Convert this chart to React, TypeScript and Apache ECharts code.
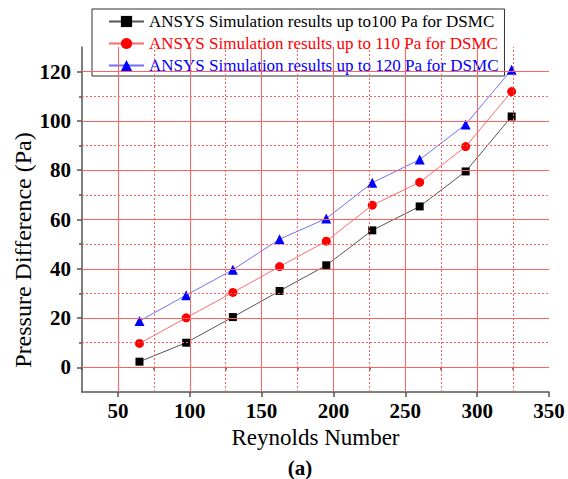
import React, { useEffect, useRef } from 'react';
import * as echarts from 'echarts';

const reynolds = [65, 97.5, 130, 162.5, 195, 227, 260, 292, 324];
const dp100 = [2.3, 10.0, 20.4, 31.0, 41.4, 55.6, 65.3, 79.5, 101.8];
const dp110 = [9.7, 20.1, 30.4, 40.9, 51.2, 65.8, 75.1, 89.6, 111.9];
const dp120 = [18.8, 29.3, 39.6, 52.0, 60.4, 74.9, 84.3, 98.6, 120.8];
const seriesNames = [
  'ANSYS Simulation results up to100 Pa for DSMC',
  'ANSYS Simulation results up to 110 Pa for DSMC',
  'ANSYS Simulation results up to 120 Pa for DSMC',
];
const yMajor = [0, 20, 40, 60, 80, 100, 120];
const yMinor = [10, 30, 50, 70, 90, 110];
const xLabels = [50, 100, 150, 200, 250, 300, 350];
const xMajorGrid = [50, 100, 150, 200, 250, 300];
const xMinor = [25, 75, 125, 175, 225, 275, 325];

const FONT = 'Liberation Serif';
const GRID_RED = '#ff6060';

export default function App() {
  const ref = useRef<HTMLDivElement>(null);
  useEffect(() => {
    if (!ref.current) return;
    const chart = echarts.init(ref.current, null, { renderer: 'svg' });
    const pair = (ys: number[]) => reynolds.map((x, i) => [x, ys[i]]);
    const solid = { color: GRID_RED, width: 1, type: 'solid', opacity: 1 };
    const dotted = { color: GRID_RED, width: 1, type: [2, 2], opacity: 1 };
    const gridLines: any[] = [
      ...yMajor.map((v) => ({ yAxis: v, lineStyle: solid })),
      ...yMinor.map((v) => ({ yAxis: v, lineStyle: dotted })),
      ...xMajorGrid.map((v) => ({ xAxis: v, lineStyle: solid })),
      ...xMinor.filter((v) => v > 25).map((v) => ({ xAxis: v, lineStyle: dotted })),
    ];
    const axisLineStyle = { color: '#555', width: 1.5 };
    chart.setOption({
      animation: false,
      backgroundColor: '#fff',
      grid: { left: 82, right: 19, top: 47, bottom: 87, containLabel: false },
      legend: {
        orient: 'vertical',
        left: 92,
        top: 9,
        padding: [4, 6, 2, 16],
        itemGap: 5,
        itemWidth: 35,
        itemHeight: 14,
        backgroundColor: '#fff',
        borderColor: '#333',
        borderWidth: 1,
        textStyle: { fontFamily: FONT, fontSize: 17, lineHeight: 16 },
        data: [
          { name: seriesNames[0], textStyle: { color: '#000' } },
          { name: seriesNames[1], textStyle: { color: '#ff0000' } },
          { name: seriesNames[2], textStyle: { color: '#0000ff' } },
        ],
      },
      xAxis: [
        {
          type: 'value',
          min: 25,
          max: 350,
          position: 'bottom',
          name: 'Reynolds Number',
          nameLocation: 'middle',
          nameGap: 34,
          nameTextStyle: { fontFamily: FONT, fontSize: 23, color: '#000' },
          axisLine: { show: true, onZero: false, lineStyle: axisLineStyle },
          axisTick: { show: true, inside: false, length: 5, customValues: xLabels, lineStyle: axisLineStyle },
          axisLabel: {
            customValues: xLabels,
            margin: 8,
            fontFamily: FONT,
            fontSize: 21,
            fontWeight: 'bold',
            color: '#000',
          },
          splitLine: { show: false },
        },
        {
          type: 'value',
          min: 25,
          max: 350,
          position: 'bottom',
          axisLine: { show: false },
          axisTick: { show: true, inside: false, length: 3, customValues: xMinor, lineStyle: axisLineStyle },
          axisLabel: { show: false },
          splitLine: { show: false },
        },
      ],
      yAxis: [
        {
          type: 'value',
          min: -10,
          max: 130,
          position: 'left',
          axisLine: { show: true, onZero: false, lineStyle: axisLineStyle },
          axisTick: { show: true, inside: false, length: 5, customValues: yMajor, lineStyle: axisLineStyle },
          axisLabel: {
            customValues: yMajor,
            margin: 11,
            fontFamily: FONT,
            fontSize: 21,
            fontWeight: 'bold',
            color: '#000',
          },
          splitLine: { show: false },
        },
        {
          type: 'value',
          min: -10,
          max: 130,
          position: 'left',
          axisLine: { show: false },
          axisTick: { show: true, inside: false, length: 3, customValues: yMinor, lineStyle: axisLineStyle },
          axisLabel: { show: false },
          splitLine: { show: false },
        },
      ],
      graphic: [
        {
          type: 'text',
          x: 23,
          y: 250,
          rotation: Math.PI / 2,
          style: {
            text: 'Pressure Difference (Pa)',
            fontFamily: FONT,
            fontSize: 24,
            fill: '#000',
            textAlign: 'center',
            textVerticalAlign: 'middle',
          },
        },
        {
          type: 'text',
          x: 300,
          y: 468,
          style: {
            text: '(a)',
            fontFamily: FONT,
            fontSize: 21,
            fontWeight: 'bold',
            fill: '#000',
            textAlign: 'center',
            textVerticalAlign: 'middle',
          },
        },
      ],
      series: [
        {
          name: 'grid',
          type: 'line',
          data: [],
          z: 1,
          silent: true,
          markLine: {
            silent: true,
            symbol: ['none', 'none'],
            label: { show: false },
            lineStyle: solid,
            emphasis: { disabled: true },
            data: gridLines,
          },
        },
        {
          name: seriesNames[0],
          type: 'line',
          data: pair(dp100),
          z: 3,
          symbol: 'rect',
          symbolSize: 8,
          lineStyle: { color: '#555', width: 1 },
          itemStyle: { color: '#000' },
        },
        {
          name: seriesNames[1],
          type: 'line',
          data: pair(dp110),
          z: 3,
          symbol: 'circle',
          symbolSize: 9,
          lineStyle: { color: '#ff6a6a', width: 1 },
          itemStyle: { color: '#ff0000' },
        },
        {
          name: seriesNames[2],
          type: 'line',
          data: pair(dp120),
          z: 3,
          symbol: 'triangle',
          symbolSize: 10,
          lineStyle: { color: '#7070ff', width: 1 },
          itemStyle: { color: '#0000ff' },
        },
      ],
    });
    return () => chart.dispose();
  }, []);
  return <div ref={ref} style={{ width: 568, height: 479, position: 'absolute', left: 0, top: 0 }} />;
}
